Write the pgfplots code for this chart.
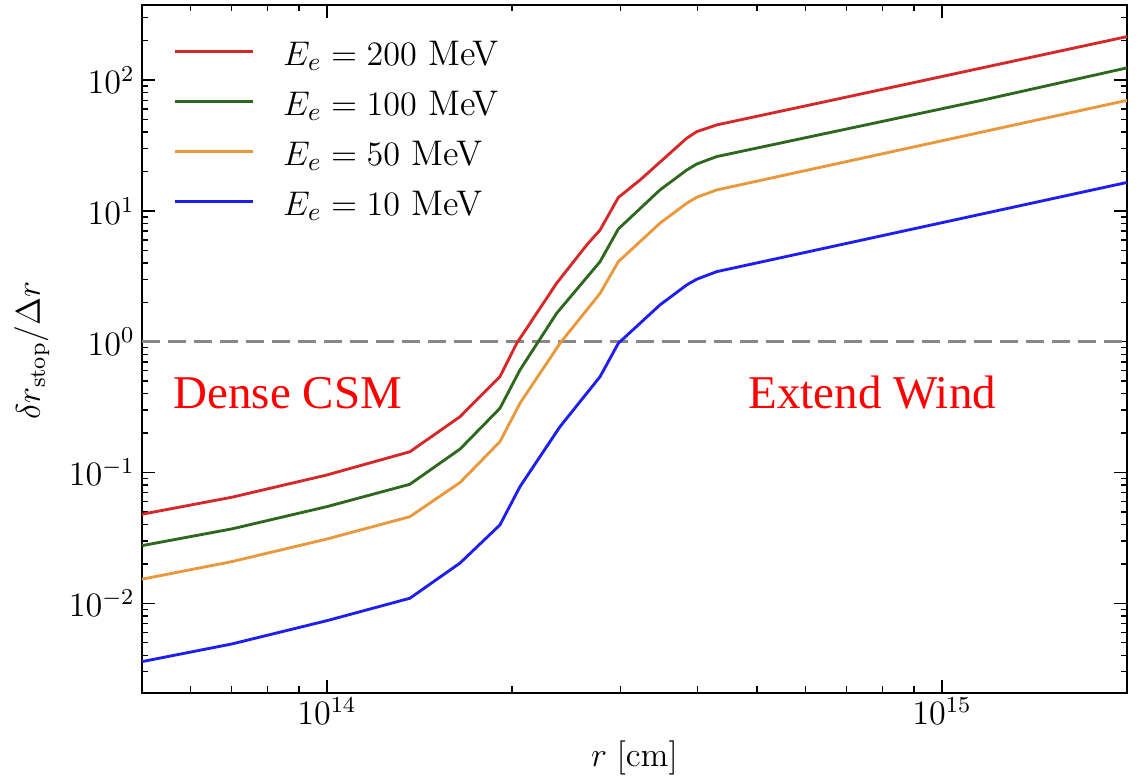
\documentclass[border=0pt]{standalone}
\usepackage{pgfplots}
\pgfplotsset{compat=1.18}
\usepackage{fontspec}
\newfontfamily\timesfont{Liberation Serif}
\definecolor{cred}{RGB}{214,40,40}
\definecolor{cgreen}{RGB}{46,104,31}
\definecolor{corange}{RGB}{233,152,60}
\definecolor{cblue}{RGB}{30,30,240}
\definecolor{cgray}{RGB}{135,135,135}
\begin{document}
\begin{tikzpicture}
\begin{axis}[
  scale only axis, width=344.85bp, height=240.7bp,
  xmode=log, ymode=log,
  xmin=5e13, xmax=2e15, ymin=2.07e-3, ymax=375,
  axis line style={line width=0.8bp},
  every tick/.style={black, line width=0.5bp},
  major tick length=4.5bp, minor tick length=2.2bp,
  tick align=inside,
  tick label style={font=\fontsize{12}{14}\selectfont},
  xticklabel style={yshift=1.8bp},
  yticklabel style={xshift=1bp},
  label style={font=\fontsize{12}{14}\selectfont},
  xlabel style={yshift=1.2bp},
  ylabel style={xshift=-0.5bp},
  xlabel={$r\;[\mathrm{cm}]$},
  ylabel={$\delta r_{\mathrm{stop}}/\Delta r$},
  legend cell align=left,
  legend image code/.code={\draw[#1, line width=1bp] (0bp,0bp) -- (27.3bp,0bp);},
  legend style={at={(axis description cs:0,1)}, anchor=north west, xshift=11bp, yshift=-11.7bp,
    draw=none, fill=none, inner sep=0pt, outer sep=0pt, row sep=8.2bp,
    font=\fontsize{12.5}{14}\selectfont,
    /tikz/every odd column/.append style={column sep=10.2bp},
    nodes={inner sep=0pt, text height=9.3bp, text depth=0bp}},
]
\addplot[cgray, line width=1.05bp, dash pattern=on 6.3bp off 2.8bp, forget plot] coordinates {(5e13,1) (2e15,1)};

\addplot[cred, line width=1bp] coordinates {
(5e13,0.0479) (7e13,0.0646) (1e14,0.0957) (1.364e14,0.144) (1.646e14,0.267)
(1.911e14,0.540) (2.035e14,0.972) (2.363e14,2.80) (2.645e14,5.49) (2.78e14,7.14)
(2.977e14,12.66) (3.228e14,17.2) (3.845e14,35.9) (3.992e14,40.3) (4.302e14,45.4)
(6.658e14,70.5) (2e15,215)};
\addlegendentry{$E_e = 200$ MeV}

\addplot[cgreen, line width=1bp] coordinates {
(5e13,0.02756) (7e13,0.037) (1e14,0.0548) (1.364e14,0.0812) (1.646e14,0.151)
(1.911e14,0.3095) (2.06e14,0.608) (2.363e14,1.649) (2.78e14,4.09) (2.977e14,7.27)
(3.479e14,14.45) (3.845e14,20.5) (3.992e14,22.8) (4.302e14,26.0) (1.168e15,70.5)
(2e15,124)};
\addlegendentry{$E_e = 100$ MeV}

\addplot[corange, line width=1bp] coordinates {
(5e13,0.01526) (7e13,0.0208) (1e14,0.031) (1.364e14,0.0459) (1.646e14,0.0838)
(1.911e14,0.172) (2.06e14,0.338) (2.393e14,0.972) (2.78e14,2.34) (2.977e14,4.09)
(3.479e14,8.04) (3.845e14,11.43) (3.992e14,12.7) (4.302e14,14.45) (2e15,70)};
\addlegendentry{$E_e = 50$ MeV}

\addplot[cblue, line width=1bp] coordinates {
(5e13,0.003577) (7e13,0.00488) (1e14,0.00736) (1.364e14,0.01092) (1.646e14,0.0203)
(1.911e14,0.0397) (2.06e14,0.0779) (2.393e14,0.224) (2.78e14,0.540) (2.977e14,0.972)
(3.479e14,1.909) (3.845e14,2.713) (3.992e14,3.00) (4.302e14,3.43) (2e15,16.5)};
\addlegendentry{$E_e = 10$ MeV}

\node[anchor=base west, inner sep=0pt, text=red, font=\timesfont\fontsize{16.5}{19}\selectfont] at (axis cs:5.62e13,0.311) {Dense CSM};
\node[anchor=base west, inner sep=0pt, text=red, font=\timesfont\fontsize{16.5}{19}\selectfont] at (axis cs:4.84e14,0.311) {Extend Wind};
\end{axis}
\pgfresetboundingbox
\path[use as bounding box] ([xshift=-49.6bp,yshift=-30.55bp]current axis.south west) rectangle ([xshift=3.85bp,yshift=1.75bp]current axis.north east);
\end{tikzpicture}
\end{document}
